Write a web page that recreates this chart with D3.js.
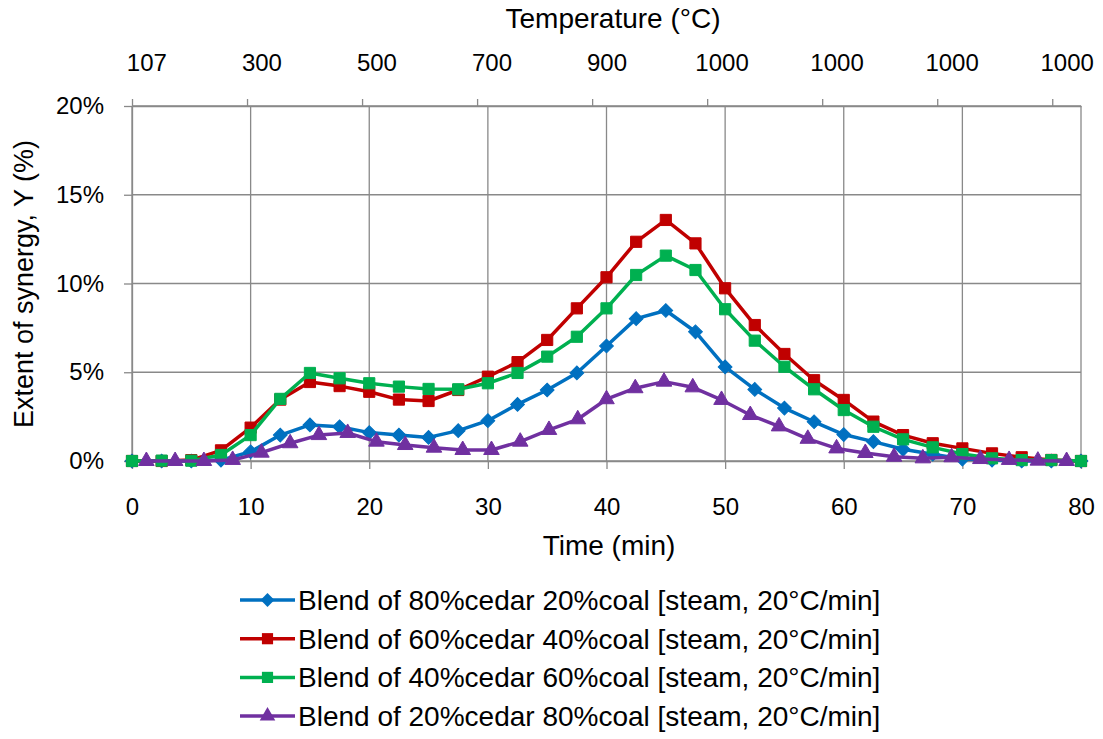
<!DOCTYPE html>
<html>
<head>
<meta charset="utf-8">
<script src="https://cdn.jsdelivr.net/npm/d3@7"></script>
<style>
  body { margin: 0; background: #fff; }
  text { font-family: "Liberation Sans", Arial, sans-serif; fill: #000; }
</style>
</head>
<body>
<script>
// time (min) for the primary-axis series
var times = [0, 2.5, 5, 7.5, 10, 12.5, 15, 17.5, 20, 22.5, 25, 27.5, 30, 32.5, 35, 37.5, 40,
             42.5, 45, 47.5, 50, 52.5, 55, 57.5, 60, 62.5, 65, 67.5, 70, 72.5, 75, 77.5, 80];

// temperature categories for the secondary (top) axis
var tempCats = [107, 150, 200, 250, 300, 350, 400, 450, 500, 550, 600, 650, 700, 750, 800, 850, 900,
                950, 1000, 1000, 1000, 1000, 1000, 1000, 1000, 1000, 1000, 1000, 1000, 1000, 1000, 1000, 1000];

var blend80 = [0, 0, 0, 0.05, 0.52, 1.46, 2.03, 1.93, 1.6, 1.46, 1.33, 1.71, 2.27, 3.19, 4.0, 4.96, 6.48,
               8.02, 8.48, 7.28, 5.3, 4.03, 2.98, 2.21, 1.49, 1.09, 0.66, 0.38, 0.11, 0.05, 0, 0, 0];
var blend60 = [0, 0, 0.05, 0.6, 1.88, 3.46, 4.45, 4.22, 3.9, 3.46, 3.38, 4.0, 4.75, 5.57, 6.82, 8.6, 10.35,
               12.35, 13.58, 12.26, 9.73, 7.66, 6.03, 4.55, 3.44, 2.22, 1.46, 1.0, 0.71, 0.43, 0.21, 0.06, 0];
var blend40 = [0, 0.02, 0.02, 0.34, 1.46, 3.5, 4.96, 4.66, 4.38, 4.19, 4.06, 4.04, 4.38, 4.96, 5.88, 7.0, 8.6,
               10.48, 11.57, 10.76, 8.55, 6.78, 5.31, 4.04, 2.87, 1.93, 1.22, 0.77, 0.39, 0.15, 0.05, 0.05, 0];
var blend20 = [0, 0, 0, 0.06, 0.47, 1.0, 1.46, 1.58, 1.09, 0.9, 0.75, 0.62, 0.62, 1.09, 1.75, 2.35, 3.48,
               4.1, 4.47, 4.15, 3.44, 2.59, 1.95, 1.25, 0.71, 0.45, 0.24, 0.15, 0.21, 0.11, 0.06, 0.02, 0];

var xTicks = [0, 10, 20, 30, 40, 50, 60, 70, 80];
var yTicks = [0, 5, 10, 15, 20];

var margin = {top: 106, right: 22, bottom: 278, left: 132},
    width = 1103 - margin.left - margin.right,
    height = 739 - margin.top - margin.bottom;

var gridColor = "#898989";

var x = d3.scaleLinear().domain([0, 80]).range([0, width]);
var xCat = d3.scaleLinear().domain([0, tempCats.length]).range([0, width]);
var y = d3.scaleLinear().domain([0, 20]).range([height, 0]);

var series = [
  {name: "Blend of 80%cedar 20%coal [steam, 20\u00B0C/min]", values: blend80, color: "#0070C0", marker: "diamond", axis: "time"},
  {name: "Blend of 60%cedar 40%coal [steam, 20\u00B0C/min]", values: blend60, color: "#C00000", marker: "square", axis: "time"},
  {name: "Blend of 40%cedar 60%coal [steam, 20\u00B0C/min]", values: blend40, color: "#00B050", marker: "square", axis: "time"},
  {name: "Blend of 20%cedar 80%coal [steam, 20\u00B0C/min]", values: blend20, color: "#7030A0", marker: "triangle", axis: "temp"}
];

function markerPath(type) {
  if (type === "diamond") return d3.symbol().type(d3.symbolSquare).size(95)();
  if (type === "triangle") return d3.symbol().type(d3.symbolTriangle).size(105)();
  return d3.symbol().type(d3.symbolSquare).size(125)();
}

var svg = d3.select("body").append("svg")
    .attr("width", 1103)
    .attr("height", 739);

var g = svg.append("g")
    .attr("transform", "translate(" + margin.left + "," + margin.top + ")");

// grid
g.append("g").selectAll("line").data(yTicks).enter().append("line")
    .attr("x1", 0).attr("x2", width)
    .attr("y1", function(d) { return y(d); }).attr("y2", function(d) { return y(d); })
    .attr("stroke", gridColor).attr("stroke-width", 1.3);
g.append("g").selectAll("line").data(xTicks).enter().append("line")
    .attr("x1", function(d) { return x(d); }).attr("x2", function(d) { return x(d); })
    .attr("y1", 0).attr("y2", height)
    .attr("stroke", gridColor).attr("stroke-width", 1.3);

// bottom axis
var xAxis = g.append("g")
    .attr("transform", "translate(0," + height + ")")
    .call(d3.axisBottom(x).tickValues(xTicks).tickSize(8).tickPadding(29).tickSizeOuter(0));

// left axis
var yAxis = g.append("g")
    .call(d3.axisLeft(y).tickValues(yTicks).tickSize(8).tickPadding(20).tickSizeOuter(0)
      .tickFormat(function(d) { return d + "%"; }));

// top axis: tick marks at category edges, labels at category centres
var topTicks = g.append("g")
    .call(d3.axisTop(xCat).tickValues(d3.range(0, tempCats.length + 1, 4)).tickSize(7).tickSizeOuter(0)
      .tickFormat(""));
var topLabels = g.append("g")
    .call(d3.axisTop(xCat).tickValues(d3.range(0, tempCats.length, 4).map(function(i) { return i + 0.5; }))
      .tickSize(0).tickPadding(35)
      .tickFormat(function(d) { return tempCats[d - 0.5]; }));
topLabels.select(".domain").remove();

[xAxis, yAxis, topTicks].forEach(function(a) {
  a.selectAll(".domain, line").attr("stroke", gridColor).attr("stroke-width", 1.3);
});
g.selectAll(".tick text").attr("font-size", 24).style("font-family", "Liberation Sans, Arial, sans-serif").attr("fill", "#000");

// lines and markers
series.forEach(function(s) {
  var pts = s.values.map(function(v, i) {
    var px = s.axis === "time" ? x(times[i]) : xCat(i + 0.5);
    return [px, y(v)];
  });
  g.append("path")
      .datum(pts)
      .attr("fill", "none")
      .attr("stroke", s.color)
      .attr("stroke-width", 3.5)
      .attr("stroke-linejoin", "round")
      .attr("d", d3.line());
  g.append("g").selectAll("path").data(pts).enter().append("path")
      .attr("d", markerPath(s.marker))
      .attr("transform", function(d) {
        return "translate(" + d[0] + "," + d[1] + ")" + (s.marker === "diamond" ? " rotate(45)" : "");
      })
      .attr("fill", s.color)
      .attr("stroke", s.color)
      .attr("stroke-width", 1);
});

// titles
svg.append("text")
    .attr("x", 613).attr("y", 28)
    .attr("text-anchor", "middle").attr("font-size", 28)
    .text("Temperature (\u00B0C)");
svg.append("text")
    .attr("x", 609).attr("y", 555)
    .attr("text-anchor", "middle").attr("font-size", 28)
    .text("Time (min)");
svg.append("text")
    .attr("transform", "translate(33," + 284 + ") rotate(-90)")
    .attr("text-anchor", "middle").attr("font-size", 27)
    .text("Extent of synergy, Y (%)");

// legend
var legend = svg.append("g").attr("transform", "translate(240,600)");
var row = legend.selectAll("g").data(series).enter().append("g")
    .attr("transform", function(d, i) { return "translate(0," + (i * 38.7) + ")"; });
row.append("line")
    .attr("x1", 0).attr("x2", 55)
    .attr("stroke", function(d) { return d.color; })
    .attr("stroke-width", 3.5);
row.append("path")
    .attr("d", function(d) { return markerPath(d.marker); })
    .attr("transform", function(d) { return "translate(27.5,0)" + (d.marker === "diamond" ? " rotate(45)" : ""); })
    .attr("fill", function(d) { return d.color; });
row.append("text")
    .attr("x", 58).attr("dy", "0.35em")
    .attr("font-size", 28)
    .text(function(d) { return d.name; });
</script>
</body>
</html>
